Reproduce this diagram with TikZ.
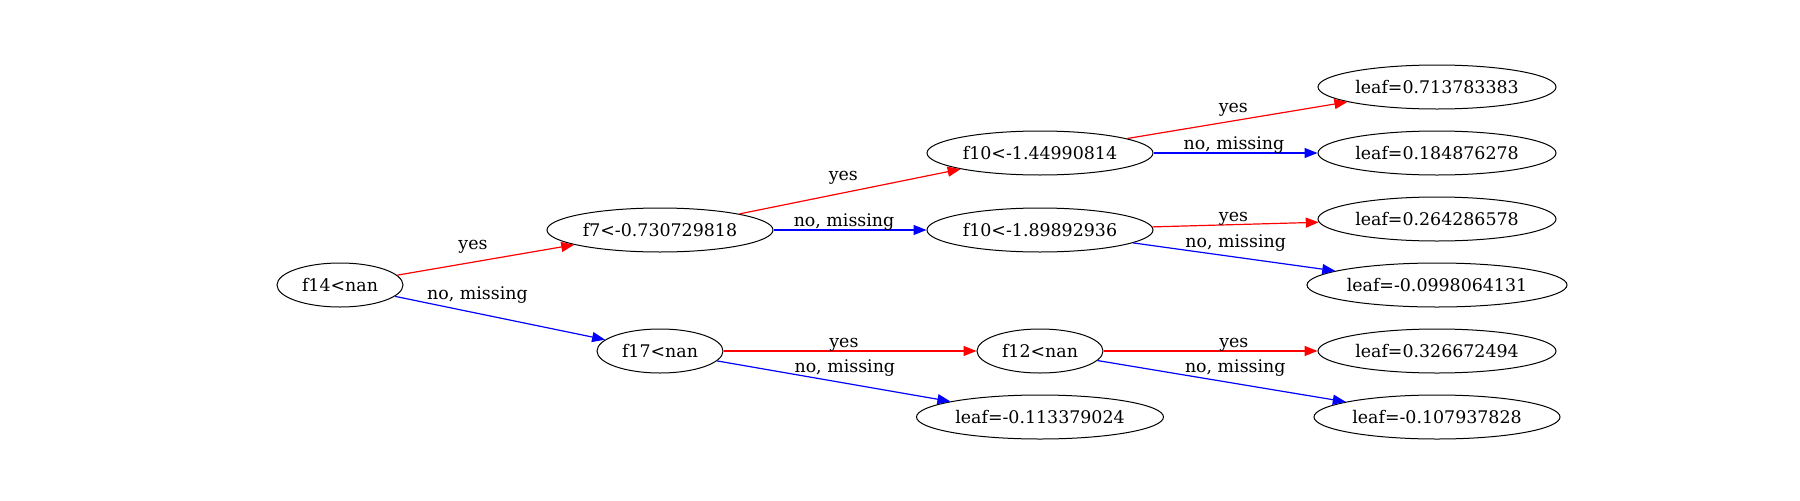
\documentclass[tikz,border=0pt]{standalone}
\usepackage{fontspec}
\setmainfont{DejaVu Serif}
\usetikzlibrary{shapes.geometric, arrows.meta}
\begin{document}
\begin{tikzpicture}[x=0.5pt, y=0.5pt, font=\fontsize{8.7}{10.5}\selectfont,
        oui/.style={<-, >={Triangle[length=6.5pt, width=5pt]}, color=red, line width=0.6pt},
        non/.style={<-, >={Triangle[length=6.5pt, width=5pt]}, color=blue, line width=0.6pt}]
    \tikzset{noeud/.style={ellipse, draw=black, line width=0.5pt, minimum height=22pt, minimum width=#1, inner sep=0pt},
             lab/.style={inner sep=1pt, text=black}};
    \useasboundingbox (0,0) rectangle (1800,500);
    \node[noeud=63pt] (0) at (340, 215) {f14<nan};
    \node[noeud=113pt] (1) at (660, 270) {f7<-0.730729818}
        edge[oui] node[lab, pos=0.475, anchor=south east, yshift=1.4pt] {yes} (0);
    \node[noeud=63pt] (2) at (660, 149) {f17<nan}
        edge[non] node[lab, pos=0.859, anchor=south west, yshift=-1.8pt] {no, missing} (0);
    \node[noeud=113pt] (3) at (1040, 347) {f10<-1.44990814}
        edge[oui] node[lab, pos=0.453, anchor=south east, yshift=1.2pt] {yes} (1);
    \node[noeud=113pt] (4) at (1040, 270) {f10<-1.89892936}
        edge[non] node[lab, pos=0.539, anchor=south, yshift=-1.5pt] {no, missing} (1);
    \node[noeud=63pt] (5) at (1040, 149) {f12<nan}
        edge[oui] node[lab, pos=0.524, anchor=south, yshift=-1.5pt] {yes} (2);
    \node[noeud=123.5pt] (6) at (1040, 83) {leaf=-0.113379024}
        edge[non] node[lab, pos=0.679, anchor=south west, yshift=-2.3pt] {no, missing} (2);

    \node[noeud=119pt] (7) at (1437, 413) {leaf=0.713783383}
        edge[oui] node[lab, pos=0.44, anchor=south east, yshift=-0.3pt] {yes} (3);
    \node[noeud=119pt] (8) at (1437, 347) {leaf=0.184876278}
        edge[non] node[lab, pos=0.509, anchor=south, yshift=-1.5pt] {no, missing} (3);
    \node[noeud=119pt] (9) at (1437, 281) {leaf=0.264286578}
        edge[oui] node[lab, pos=0.41, anchor=south east, yshift=-1.8pt] {yes} (4);
    \node[noeud=130pt] (10) at (1437, 215) {leaf=-0.0998064131}
        edge[non] node[lab, pos=0.754, anchor=south west, yshift=-2.3pt] {no, missing} (4);
    \node[noeud=119pt] (11) at (1437, 149) {leaf=0.326672494}
        edge[oui] node[lab, pos=0.391, anchor=south, yshift=-1.5pt] {yes} (5);
    \node[noeud=123pt] (12) at (1437, 83) {leaf=-0.107937828}
        edge[non] node[lab, pos=0.658, anchor=south west, yshift=-2.1pt] {no, missing} (5);
\end{tikzpicture}
\end{document}
